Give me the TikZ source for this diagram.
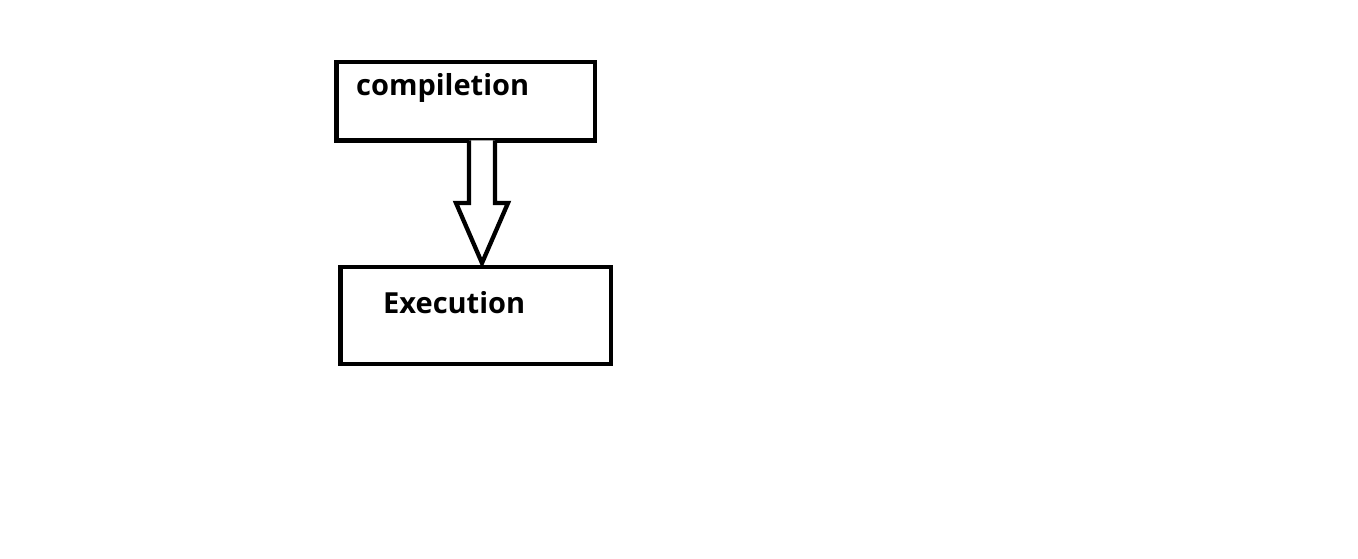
\documentclass[tikz,border=0pt]{standalone}
\usepackage{fontspec}
\setmainfont{Open Sans}
\usetikzlibrary{calc}
\begin{document}
\begin{tikzpicture}[x=1pt,y=-1pt,
  stagebox/.style={draw=black,line width=4.3pt,rectangle,inner sep=0pt,outer sep=0pt},
  label/.style={anchor=base west,inner sep=0pt,font=\fontsize{29}{34}\selectfont\bfseries},
  hollow/.style={draw=black,line width=4.3pt,line join=miter,fill=white}]
\useasboundingbox[fill=white] (0,0) rectangle (1358,559);
\node[stagebox,minimum width=258.5pt,minimum height=78.5pt] (comp) at (465.75,101.25) {};
\node[stagebox,minimum width=270.5pt,minimum height=97pt] (exec) at (475.75,315.5) {};
\node[label] (comptext) at (356,96) {compiletion};
\node[label] (exectext) at (383,313) {Execution};
\coordinate (tip) at ($(exec.north west)+(141.5,-4)$);
\draw[hollow] ($(comp.south west)+(132.5,0)$) -- ++(0,62.5) -- ++(-13,0) -- (tip) -- ++(26,-60) -- ++(-13,0) -- ($(comp.south west)+(158.5,0)$);
\end{tikzpicture}
\end{document}
